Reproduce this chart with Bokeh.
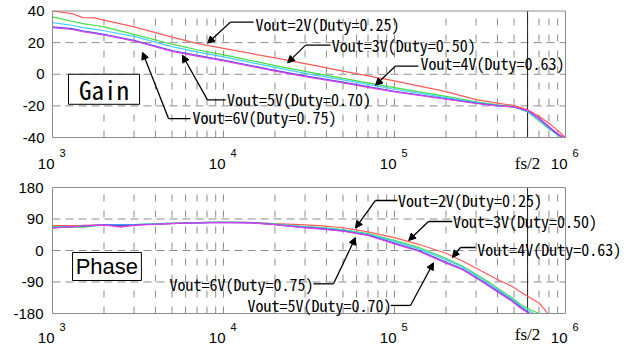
from bokeh.plotting import figure
from bokeh.models import (Label, Arrow, NormalHead, BoxAnnotation, ColumnDataSource,
                          Range1d)
from bokeh.embed import file_html
from bokeh.resources import INLINE

# ---------------- data ----------------
series_names = ["Vout=2V(Duty=0.25)", "Vout=3V(Duty=0.50)", "Vout=4V(Duty=0.63)",
                "Vout=5V(Duty=0.70)", "Vout=6V(Duty=0.75)"]
series_colors = ["#ff5a5a", "#44dd44", "#44ccff", "#4848ff", "#e040e0"]

gain_freq = [1e3, 1.3e3, 1.5e3, 1.75e3, 2e3, 3e3, 5e3, 7e3, 1e4, 2e4, 3e4, 5e4, 7e4, 1e5,
             2e5, 3e5, 4e5, 5e5, 6e5, 7e5, 8e5, 9e5]
gain_2v = [40, 38.4, 35.8, 35.6, 34.2, 30, 23.5, 19.5, 16.4, 10.3, 6.7, 2.0, -1.0, -4.2,
           -11, -16, -18.3, -19.8, -22.4, -26.5, -31, -35.5]
gain_3v = [36.3, 33.5, 32, 31, 30, 25.2, 19, 15.5, 12.3, 5.5, 1.8, -2.6, -5.4, -8.5,
           -14, -17.5, -19.3, -20.7, -23.8, -29.5, -34.5, -38.5]
gain_4v = [32.7, 31, 29.5, 28.5, 27.5, 24, 17.5, 14.2, 11, 4.3, 0.6, -3.6, -6.4, -9.5,
           -14.8, -18, -19.6, -20.7, -23.5, -29, -34, -38.2]
gain_5v = [30, 28.8, 27.5, 26.3, 25.3, 21.5, 15, 12, 9, 2.5, -1.0, -5.0, -7.8, -10.8,
           -15.5, -18.3, -19.8, -20.7, -23, -28, -33.5, -38]
gain_6v = [29.5, 28.3, 27, 25.8, 24.8, 21, 14.5, 11.5, 8.5, 2.0, -1.5, -5.5, -8.3, -11.2,
           -15.8, -18.5, -20, -20.7, -22.8, -27.5, -33, -37.5]
# frequency where each gain curve leaves the plot at its bottom edge (-40 dB)
gain_end_freq = [1.0e6, 9.5e5, 9.6e5, 9.7e5, 9.8e5]
gain_end_value = -40

phase_freq = [1e3, 1.5e3, 2e3, 2.5e3, 3e3, 4e3, 6e3, 1e4, 1.5e4, 2e4, 2.8e4, 3.6e4, 5e4,
              7e4, 1e5, 1.4e5, 2e5, 2.5e5, 3.2e5, 4.2e5, 4.8e5, 5.5e5]
phase_2v = [71, 72, 74, 68, 73, 76, 79, 81, 80, 77, 74, 71, 65, 53, 37, 17, -8, -30, -58,
            -88, -101, -119]
phase_3v = [68, 67, 73, 73, 74, 76, 79, 81, 80, 76, 70, 66, 60, 48, 29, 8, -22, -45, -76,
            -114, -133, -155]
phase_4v = [66, 70, 74, 74, 74, 76, 79, 81, 80, 75, 69, 65, 58, 46, 26, 4, -26, -48, -80,
            -118, -137, -159]
phase_5v = [65, 69, 73, 72, 73, 75, 78, 80, 79, 74, 67, 63, 56, 44, 21, -1, -33, -53, -85,
            -122, -141, -163]
phase_6v = [64, 70, 73, 67, 72, 75, 78, 80, 78, 74, 66, 62, 55, 43, 19, -3, -36, -55, -87,
            -125, -143, -166]
# high-frequency tails, each ending where the curve meets the -180 deg edge
phase_tail_freq = [[6.1e5, 7e5, 7.5e5, 7.85e5], [6.1e5, 7e5], [6.1e5, 6.55e5], [6.2e5],
                   [6.1e5]]
phase_tail_vals = [[-133, -150, -167, -180], [-167, -180], [-172, -180], [-180], [-180]]

gain_series = [gain_2v, gain_3v, gain_4v, gain_5v, gain_6v]
phase_series = [phase_2v, phase_3v, phase_4v, phase_5v, phase_6v]

f_min, f_max = 1e3, 1e6
half_fs = 6e5
decade_exps = [3, 4, 5, 6]
gain_ticks = [40, 20, 0, -20, -40]
gain_tick_labels = ["40", "20", "0", "-20", "-40"]
phase_ticks = [180, 90, 0, -90, -180]
phase_tick_labels = ["180", "90", "0", "-90", "-180"]

# ---------------- layout / styles ----------------
MONO = "Noto Sans Mono CJK JP, DejaVu Sans Mono, monospace"
SANS = "Liberation Sans"
SERIF = "Liberation Serif"
GRID = "#8c8c8c"
WIDTH, HEIGHT = 624, 345
LEFT = 52          # canvas px left of the plot boxes
DECADE_PX = 171    # px per decade
GAIN_BOX = (10.5, 137)     # top / bottom of the gain box, canvas px
PHASE_BOX = (187, 313)     # top / bottom of the phase box, canvas px

grid_x = [m * 10 ** e for e in (3, 4, 5) for m in range(1, 10)][1:]
x_start = f_min * 10 ** (-LEFT / DECADE_PX)
x_end = f_min * 10 ** ((WIDTH - LEFT) / DECADE_PX)


def full_range(lo, hi, box):
    per_px = (hi - lo) / (box[1] - box[0])
    return Range1d(lo - (HEIGHT - box[1]) * per_px, hi + box[0] * per_px)


p = figure(width=WIDTH, height=HEIGHT, x_axis_type="log", x_range=(x_start, x_end),
           y_range=full_range(-40, 40, GAIN_BOX), output_backend="svg",
           toolbar_location=None, min_border=0, background_fill_color="white",
           border_fill_color="white")
p.extra_y_ranges = {"phase": full_range(-180, 180, PHASE_BOX)}
p.outline_line_color = None
p.axis.visible = False
p.grid.visible = False


def draw_panel(rn, ylim, yticks, ylabels, hgrid, ylab_off, lab_off, fs_off):
    lo, hi = ylim
    vsrc = ColumnDataSource(dict(x=grid_x, y0=[lo] * len(grid_x), y1=[hi] * len(grid_x)))
    p.segment(x0="x", x1="x", y0="y0", y1="y1", source=vsrc, line_color=GRID,
              line_dash="7 9", line_width=1, y_range_name=rn)
    hsrc = ColumnDataSource(dict(x0=[f_min] * len(hgrid), x1=[f_max] * len(hgrid), y=hgrid))
    p.segment(x0="x0", x1="x1", y0="y", y1="y", source=hsrc, line_color=GRID,
              line_dash="8 5", line_width=1, y_range_name=rn)
    p.segment(x0=[half_fs], x1=[half_fs], y0=[lo], y1=[hi], line_color="#222222",
              line_width=1, y_range_name=rn)
    p.add_layout(BoxAnnotation(left=f_min, right=f_max, top=hi, bottom=lo, fill_alpha=0,
                               line_color=GRID, line_width=1, line_alpha=1,
                               y_range_name=rn))
    for t, lab in zip(yticks, ylabels):
        p.add_layout(Label(x=f_min, y=t, x_offset=ylab_off, text=lab, text_align="right",
                           text_baseline="middle", text_font=SANS, text_font_size="15px",
                           text_color="black", y_range_name=rn))
    for e in decade_exps:
        p.add_layout(Label(x=10 ** e, y=lo, x_offset=2, y_offset=lab_off, text="10",
                           text_align="right", text_baseline="alphabetic",
                           text_font=SANS, text_font_size="15px", text_color="black",
                           y_range_name=rn))
        p.add_layout(Label(x=10 ** e, y=lo, x_offset=7, y_offset=lab_off + 11,
                           text=str(e), text_align="left", text_baseline="alphabetic",
                           text_font=SANS, text_font_size="11px", text_color="black",
                           y_range_name=rn))
    p.add_layout(Label(x=half_fs, y=lo, y_offset=fs_off, text="fs/2", text_align="center",
                       text_baseline="alphabetic", text_font=SERIF,
                       text_font_size="17px", text_color="black", y_range_name=rn))


def callout(rn, text, text_x, text_y, align, corner_x, corner_y, hend_x, tip_x, tip_y):
    p.add_layout(Arrow(end=None, x_start=corner_x, y_start=corner_y, x_end=hend_x,
                       y_end=corner_y, line_color="black", line_width=1.3,
                       y_range_name=rn))
    p.add_layout(Arrow(end=NormalHead(size=7, fill_color="black", line_color="black"),
                       x_start=corner_x, y_start=corner_y, x_end=tip_x, y_end=tip_y,
                       line_color="black", line_width=1.3, y_range_name=rn))
    p.add_layout(Label(x=text_x, y=text_y, text=text, text_align=align,
                       text_baseline="middle", text_font=MONO, text_font_size="16px",
                       text_color="black", y_range_name=rn))


# ---------------- gain ----------------
draw_panel("default", (-40, 40), gain_ticks, gain_tick_labels, [20, 0, -20], -8, -26, -26)
for vals, col, fe in zip(gain_series, series_colors, gain_end_freq):
    p.line(gain_freq + [fe], vals + [gain_end_value], line_color=col, line_width=1.2)

p.add_layout(BoxAnnotation(left=1.24e3, right=3.23e3, top=0, bottom=-19,
                           fill_color="white", fill_alpha=1, line_color="black",
                           line_width=1, line_alpha=1))
p.add_layout(Label(x=2.0e3, y=-9.5, text="Gain", text_align="center",
                   text_baseline="middle", text_font=MONO, text_font_size="25px",
                   text_color="black"))

gain_callouts = [
    (0, 1.54e4, 31.8, "left", 1.1e4, 33.0, 1.5e4, 8.06e3, 19.6),
    (1, 4.3e4, 18.4, "left", 3.02e4, 18.4, 4.22e4, 2.37e4, 7.2),
    (2, 1.42e5, 7.0, "left", 1.01e5, 5.1, 1.38e5, 7.74e4, -7.0),
    (3, 1.05e4, -15.8, "left", 8.06e3, -16.2, 1.03e4, 5.75e3, 12.0),
    (4, 6.59e3, -27.2, "left", 4.77e3, -28.0, 6.41e3, 3.36e3, 13.9),
]
for i, tx, ty, al, cx, cy, hx, px, py in gain_callouts:
    callout("default", series_names[i], tx, ty, al, cx, cy, hx, px, py)

# ---------------- phase ----------------
draw_panel("phase", (-180, 180), phase_ticks, phase_tick_labels, [90, 0, -90], -9, -24,
           -21)
for vals, col, tf, tv in zip(phase_series, series_colors, phase_tail_freq, phase_tail_vals):
    p.line(phase_freq + tf, vals + tv, line_color=col, line_width=1.2,
           y_range_name="phase")

p.add_layout(BoxAnnotation(left=1.31e3, right=3.31e3, top=-5.7, bottom=-85.7,
                           fill_color="white", fill_alpha=1, line_color="black",
                           line_width=1, line_alpha=1, y_range_name="phase"))
p.add_layout(Label(x=2.08e3, y=-45.7, text="Phase", text_align="center",
                   text_baseline="middle", text_font=SANS, text_font_size="22px",
                   text_color="black", y_range_name="phase"))

phase_callouts = [
    (0, 1.05e5, 145.0, "left", 7.74e4, 142.9, 1.04e5, 5.91e4, 64.0),
    (1, 2.2e5, 82.9, "left", 1.58e5, 82.9, 2.18e5, 1.21e5, 28.6),
    (2, 3.05e5, 2.9, "left", 2.43e5, 8.6, 2.98e5, 2.18e5, -20.0),
    (4, 3.36e4, -94.3, "right", 4.4e4, -95.2, 3.36e4, 5.91e4, 37.0),
    (3, 1.38e4, -157.0, "left", 1.24e5, -157.0, 9.5e4, 1.69e5, -35.0),
]
for i, tx, ty, al, cx, cy, hx, px, py in phase_callouts:
    callout("phase", series_names[i], tx, ty, al, cx, cy, hx, px, py)

open("out.html", "w").write(file_html(p, INLINE))
